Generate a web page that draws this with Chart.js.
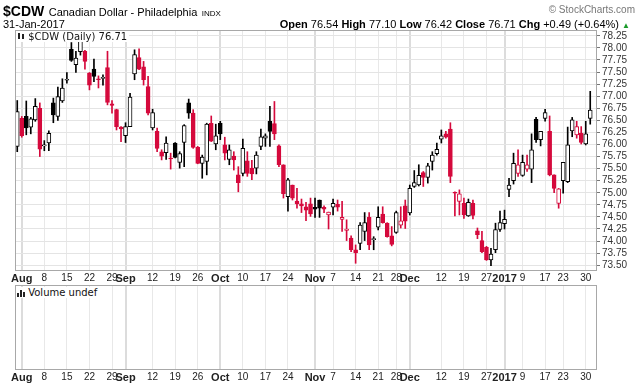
<!DOCTYPE html>
<html>
<head>
<meta charset="utf-8">
<script src="https://cdn.jsdelivr.net/npm/chart.js@4.4.0/dist/chart.umd.min.js"></script>
<style>
  html, body { margin: 0; padding: 0; background: #fff; }
  #wrap { position: relative; width: 640px; height: 385px; overflow: hidden; font-family: "Liberation Sans", Arial, sans-serif; color: #000; }
  #wrap canvas { position: absolute; left: 0; }
  .txt { position: absolute; white-space: nowrap; line-height: 1; }
  .tag { position: absolute; white-space: nowrap; background: #fff; font-family: "DejaVu Sans", sans-serif; font-size: 10px; line-height: 11px; padding: 0 2px 0 1px; color: #111; }
  #ohlc b { font-weight: bold; }
</style>
</head>
<body>
<div id="wrap">
  <canvas id="priceChart" width="640" height="284" style="top:0"></canvas>
  <canvas id="volChart" width="640" height="101" style="top:284px"></canvas>

  <div class="txt" style="left:3px;top:3px;"><b style="font-size:14px">$CDW</b> <span style="font-size:11px">Canadian Dollar - Philadelphia</span> <span style="font-size:8px">INDX</span></div>
  <div class="txt" style="left:3px;top:19px;font-size:11px">31-Jan-2017</div>
  <div class="txt" style="right:5px;top:5px;font-size:10px;color:#777">© StockCharts.com</div>
  <div class="txt" id="ohlc" style="right:10px;top:19px;font-size:11px"></div>

  <div class="tag" id="priceTag" style="left:16px;top:31px"></div>
  <div class="tag" style="left:16px;top:287px"><svg width="8" height="8" style="vertical-align:-1px"><rect x="0" y="4" width="2" height="4" fill="#222"/><rect x="3" y="1" width="2" height="7" fill="#222"/><rect x="6" y="3" width="2" height="5" fill="#222"/></svg> Volume undef</div>
</div>

<script>
// fechas de cotización (29-jul-2016 a 31-ene-2017)
const dates = ['7/29',
  '8/1','8/2','8/3','8/4','8/5','8/8','8/9','8/10','8/11','8/12','8/15','8/16','8/17','8/18','8/19',
  '8/22','8/23','8/24','8/25','8/26','8/29','8/30','8/31',
  '9/1','9/2','9/6','9/7','9/8','9/9','9/12','9/13','9/14','9/15','9/16','9/19','9/20','9/21','9/22','9/23',
  '9/26','9/27','9/28','9/29','9/30',
  '10/3','10/4','10/5','10/6','10/7','10/10','10/11','10/12','10/13','10/14','10/17','10/18','10/19','10/20','10/21',
  '10/24','10/25','10/26','10/27','10/28','10/31',
  '11/1','11/2','11/3','11/4','11/7','11/8','11/9','11/10','11/11','11/14','11/15','11/16','11/17','11/18',
  '11/21','11/22','11/23','11/25','11/28','11/29','11/30',
  '12/1','12/2','12/5','12/6','12/7','12/8','12/9','12/12','12/13','12/14','12/15','12/16','12/19','12/20','12/21','12/22','12/23',
  '12/27','12/28','12/29','12/30',
  '1/3','1/4','1/5','1/6','1/9','1/10','1/11','1/12','1/13','1/17','1/18','1/19','1/20','1/23','1/24','1/25','1/26','1/27',
  '1/30','1/31'];

const openP = [75.96,76.54,76.58,76.36,76.51,76.75,75.97,76.03,76.86,76.58,76.90,77.33,77.97,77.65,77.92,77.93,
  77.48,77.56,77.36,77.37,77.59,76.84,76.72,76.36,76.18,76.37,77.46,77.80,77.61,77.20,76.34,76.27,
  75.85,75.83,75.72,76.03,75.63,76.04,76.86,76.65,75.94,75.61,75.65,76.44,76.01,76.44,75.99,75.69,
  75.76,75.37,75.40,75.66,75.51,75.51,75.96,76.13,76.48,76.43,75.97,75.58,74.92,75.16,74.83,74.77,
  74.71,74.77,74.70,74.85,74.70,74.54,74.70,74.76,74.45,74.22,74.06,73.82,73.95,74.20,74.49,74.03,
  74.29,74.56,74.37,74.11,74.18,74.33,74.73,74.58,75.13,75.16,75.42,75.32,75.65,75.81,76.11,76.22,
  76.32,75.01,74.82,74.78,74.52,74.78,74.21,74.01,73.87,73.61,73.82,74.24,74.36,75.07,75.25,75.40,
  75.36,75.49,75.49,76.52,76.10,76.54,76.27,75.37,74.78,75.25,75.23,76.28,76.20,76.23,76.01,76.54];

const highP = [76.91,76.58,76.90,76.56,76.95,76.86,76.08,76.28,76.96,77.19,77.36,77.49,78.11,77.93,78.35,77.95,
  77.49,77.77,77.42,77.44,77.93,76.91,76.73,76.37,76.45,77.06,77.96,77.98,77.72,77.41,76.73,76.34,
  75.89,76.16,75.82,76.04,75.85,76.41,76.94,76.72,75.96,75.78,76.44,76.59,76.42,76.48,76.15,75.99,
  75.85,75.54,76.11,75.85,75.67,75.85,76.32,76.22,76.79,76.89,75.99,75.58,75.30,75.16,75.09,74.87,
  74.80,74.89,74.89,74.85,74.73,74.60,74.87,74.85,74.82,74.44,74.11,73.92,74.38,74.59,74.59,74.09,
  74.71,74.71,74.38,74.30,74.62,74.71,74.85,75.16,75.46,75.58,75.44,75.61,75.85,76.03,76.30,76.27,
  76.45,75.02,75.06,74.89,74.87,74.85,74.27,74.20,73.89,73.85,74.37,74.62,74.64,75.30,75.82,75.89,
  75.78,75.78,76.22,76.56,76.27,76.73,76.59,75.37,75.09,75.63,76.36,76.56,76.48,76.37,76.48,77.10];

const lowP = [75.85,76.15,76.20,76.22,76.48,75.75,75.87,75.87,76.45,76.50,76.87,77.27,77.72,77.49,77.85,77.56,
  77.13,77.30,77.17,77.23,76.82,76.65,76.30,76.06,76.04,76.37,77.34,77.55,77.23,76.61,76.30,75.85,
  75.68,75.69,75.49,75.72,75.51,75.54,76.54,75.92,75.60,75.30,75.37,76.06,75.89,76.10,75.68,75.58,
  75.47,75.02,75.35,75.34,75.27,75.39,75.89,75.96,75.96,76.10,75.54,74.89,74.62,74.85,74.68,74.59,
  74.42,74.51,74.49,74.49,74.59,74.25,74.54,74.62,74.20,74.01,73.78,73.54,73.82,74.01,73.82,73.82,
  74.23,74.37,74.08,73.90,74.16,74.27,74.26,74.54,75.11,75.14,75.13,75.20,75.47,75.78,76.03,76.13,
  75.21,74.52,74.54,74.47,74.51,74.46,74.05,73.76,73.60,73.49,73.76,74.20,74.25,74.92,75.18,75.34,
  75.34,75.44,75.21,76.04,75.97,76.48,75.35,75.00,74.68,74.99,75.21,76.16,76.13,76.01,75.99,76.42];

const closeP = [76.68,76.18,76.34,76.53,76.79,75.90,75.99,76.23,76.61,76.99,77.17,77.35,77.74,77.79,78.22,77.72,
  77.23,77.41,77.34,77.39,76.87,76.81,76.37,76.32,76.37,76.98,77.86,77.56,77.34,76.65,76.66,75.92,
  75.76,76.03,75.70,75.73,75.81,76.39,76.65,75.94,75.61,75.74,76.42,76.07,76.18,76.22,75.82,75.89,
  75.68,75.21,75.92,75.40,75.39,75.78,76.16,76.18,76.27,76.22,75.58,74.98,75.27,74.89,74.77,74.73,
  74.64,74.56,74.66,74.68,74.66,74.60,74.78,74.70,74.49,74.25,73.82,73.76,74.33,74.38,73.92,74.05,
  74.49,74.38,74.09,73.93,74.59,74.42,74.41,75.09,75.21,75.36,75.32,75.56,75.78,75.90,76.18,76.15,
  75.34,74.99,74.98,74.54,74.80,74.53,74.13,73.78,73.61,73.73,74.24,74.38,74.45,75.16,75.61,75.58,
  75.63,75.58,75.89,76.10,76.27,76.66,75.37,75.09,75.08,75.63,75.99,76.51,76.37,76.04,76.22,76.71];

const priceTicks = [73.50,73.75,74.00,74.25,74.50,74.75,75.00,75.25,75.50,75.75,
  76.00,76.25,76.50,76.75,77.00,77.25,77.50,77.75,78.00,78.25];

const dateTicks = [['8/1','Aug'],['8/8','8'],['8/15','15'],['8/22','22'],['8/29','29'],
  ['9/1','Sep'],['9/12','12'],['9/19','19'],['9/26','26'],
  ['10/3','Oct'],['10/10','10'],['10/17','17'],['10/24','24'],
  ['11/1','Nov'],['11/7','7'],['11/14','14'],['11/21','21'],['11/28','28'],
  ['12/1','Dec'],['12/12','12'],['12/19','19'],['12/27','27'],
  ['1/3','2017'],['1/9','9'],['1/17','17'],['1/23','23'],['1/30','30']];
const monthTicks = ['Aug','Sep','Oct','Nov','Dec','2017'];

const RED = '#d5093c';
const BLACK = '#000000';
const FONT = '"Liberation Sans", Arial, sans-serif';

// un hueco vacío a la derecha, como en el original
const slots = dates.concat(['']);

// colores de cada vela: negro/rojo según el cierre anterior, hueca si cierra sobre la apertura
const lineColors = closeP.map((c, i) => (i > 0 && c < closeP[i - 1]) ? RED : BLACK);
const fillColors = closeP.map((c, i) => c > openP[i] ? '#ffffff' : lineColors[i]);

const tickIndex = new Map(dateTicks.map(t => [dates.indexOf(t[0]), t[1]]));
const isMonth = v => monthTicks.includes(tickIndex.get(v));

function setDateTicks(scale) {
    scale.ticks = dateTicks.map(t => ({ value: dates.indexOf(t[0]) }));
}

const xAxis = {
    type: 'category',
    offset: true,
    afterBuildTicks: setDateTicks,
    grid: {
        offset: false,
        drawTicks: false,
        color: ctx => (ctx.tick && isMonth(ctx.tick.value)) ? '#dcdcdc' : '#e8e8e8',
        lineWidth: ctx => (ctx.tick && isMonth(ctx.tick.value)) ? 2 : 1
    },
    border: { display: false },
    ticks: {
        autoSkip: false,
        maxRotation: 0,
        padding: 1,
        color: '#222',
        font: ctx => (ctx.tick && isMonth(ctx.tick.value))
            ? { family: FONT, size: 11, weight: 'bold' }
            : { family: FONT, size: 10 },
        callback: v => tickIndex.get(v) || ''
    }
};

// marco gris alrededor del área de trazado
const frame = {
    id: 'frame',
    afterDraw(chart) {
        const { ctx, chartArea: a } = chart;
        ctx.save();
        ctx.strokeStyle = '#a8a8a8';
        ctx.lineWidth = 1;
        ctx.strokeRect(Math.round(a.left) + 0.5, Math.round(a.top) + 0.5,
            Math.round(a.right - a.left) - 1, Math.round(a.bottom - a.top) - 1);
        ctx.restore();
    }
};

// Gráfico de precios (velas con barras flotantes)
new Chart(document.getElementById('priceChart'), {
    type: 'bar',
    data: {
        labels: slots,
        datasets: [{
            label: 'cuerpo',
            data: openP.map((o, i) => [o, closeP[i]]),
            backgroundColor: fillColors,
            borderColor: lineColors,
            borderWidth: 1,
            borderSkipped: false,
            barThickness: 4,
            grouped: false
        }, {
            label: 'mecha',
            data: lowP.map((l, i) => [l, highP[i]]),
            backgroundColor: lineColors,
            borderWidth: 0,
            barThickness: 1,
            grouped: false
        }]
    },
    options: {
        responsive: false,
        animation: false,
        events: [],
        layout: { padding: { left: 15, top: 30, right: 0, bottom: 0 } },
        plugins: { legend: { display: false }, tooltip: { enabled: false } },
        scales: {
            x: Object.assign({}, xAxis, { afterFit: s => { s.height = 13; } }),
            y: {
                position: 'right',
                min: 73.38,
                max: 78.37,
                afterBuildTicks: s => { s.ticks = priceTicks.map(v => ({ value: v })); },
                afterFit: s => { s.width = 43; },
                grid: { color: '#e4e4e4', tickLength: 3, tickColor: '#777' },
                border: { display: false },
                ticks: { autoSkip: false, padding: 2, color: '#333', font: { family: FONT, size: 10 }, callback: v => v.toFixed(2) }
            }
        }
    },
    plugins: [frame]
});

// Panel de volumen (sin datos)
new Chart(document.getElementById('volChart'), {
    type: 'bar',
    data: { labels: slots, datasets: [] },
    options: {
        responsive: false,
        animation: false,
        events: [],
        layout: { padding: { left: 15, top: 1, right: 43, bottom: 0 } },
        plugins: { legend: { display: false }, tooltip: { enabled: false } },
        scales: {
            x: Object.assign({}, xAxis, { afterFit: s => { s.height = 15; } }),
            y: { display: false }
        }
    },
    plugins: [frame]
});

// textos de cabecera a partir de la última vela
const n = closeP.length - 1;
const chg = closeP[n] - closeP[n - 1];
const pct = chg / closeP[n - 1] * 100;
document.getElementById('ohlc').innerHTML =
    '<b>Open</b> ' + openP[n].toFixed(2) + ' <b>High</b> ' + highP[n].toFixed(2) +
    ' <b>Low</b> ' + lowP[n].toFixed(2) + ' <b>Close</b> ' + closeP[n].toFixed(2) +
    ' <b>Chg</b> ' + (chg >= 0 ? '+' : '') + chg.toFixed(2) + ' (' + (pct >= 0 ? '+' : '') + pct.toFixed(2) + '%)' +
    ' <span style="color:#1a9a2a;font-size:8px">▲</span>';
document.getElementById('priceTag').innerHTML =
    '<svg width="8" height="9" style="vertical-align:-1px"><rect x="1" y="1" width="2" height="6" fill="#222"/><rect x="5" y="2" width="2" height="5" fill="#222"/></svg> $CDW (Daily) ' + closeP[n].toFixed(2);
</script>
</body>
</html>
